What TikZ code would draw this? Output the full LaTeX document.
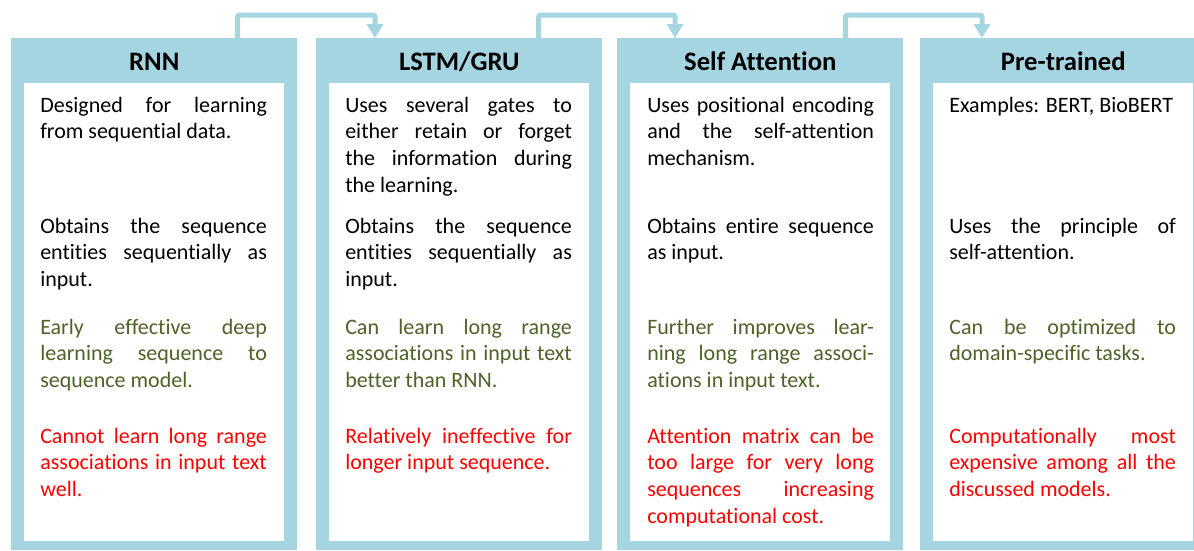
\documentclass[tikz,border=0pt]{standalone}
\usepackage{fontspec}
\setmainfont{Carlito}[Ligatures=NoCommon]
\usetikzlibrary{arrows.meta}

\definecolor{panelblue}{RGB}{166,213,226}
\definecolor{prosgreen}{RGB}{79,98,40}
\definecolor{consred}{RGB}{255,0,0}

\hyphenpenalty=10000
\exhyphenpenalty=10000

\tikzset{
  panel/.style={fill=panelblue, anchor=north west, inner sep=0pt,
    minimum width=214.5pt, minimum height=384pt},
  card/.style={fill=white, anchor=north west, inner sep=0pt,
    minimum width=195pt, minimum height=343.5pt},
  head/.style={anchor=base, inner sep=0pt, font=\fontsize{20}{24}\selectfont\bfseries},
  txt/.style={anchor=base west, inner sep=0pt, text width=170pt, align=justify,
    font=\fontsize{16.5}{20}\selectfont},
  flow/.style={draw=panelblue, line width=3.75pt, rounded corners=1.5pt,
    -{Triangle[width=12pt,length=10.5pt]}},
}

\begin{document}
\begin{tikzpicture}[x=0.75pt,y=-0.75pt]
\clip (0,0) rectangle (1194,550);

% the four model panels
\node[panel] (rnn) at (11,38) {};
\node[panel] (lstm) at (316,38) {};
\node[panel] (satt) at (617,38) {};
\node[panel] (pre) at (920,38) {};

\node[card] (rnnbody) at (24,83) {};
\node[card] (lstmbody) at (329,83) {};
\node[card] (sattbody) at (630,83) {};
\node[card] (prebody) at (933,83) {};

\node[head] (rnnhead) at ([yshift=-24.5pt]rnn.north) {RNN};
\node[head] (lstmhead) at ([yshift=-24.5pt]lstm.north) {LSTM/GRU};
\node[head] (satthead) at ([yshift=-24.5pt]satt.north) {Self Attention};
\node[head] (prehead) at ([yshift=-24.5pt]pre.north) {Pre-trained};

% RNN
\node[txt] (rnn1) at (40,112) {Designed for learning\linebreak from sequential data.};
\node[txt] (rnn2) at (40,233) {Obtains the sequence\linebreak entities sequentially as\linebreak input.};
\node[txt, prosgreen] (rnn3) at (40,334) {Early effective deep\linebreak learning sequence to\linebreak sequence model.};
\node[txt, consred] (rnn4) at (40,443) {Cannot learn long range\linebreak associations in input text\linebreak well.};

% LSTM/GRU
\node[txt] (lstm1) at (345,112) {Uses several gates to\linebreak either retain or forget\linebreak the information during\linebreak the learning.};
\node[txt] (lstm2) at (345,233) {Obtains the sequence\linebreak entities sequentially as\linebreak input.};
\node[txt, prosgreen] (lstm3) at (345,334) {Can learn long range\linebreak associations in input text\linebreak better than RNN.};
\node[txt, consred] (lstm4) at (345,443) {Relatively ineffective for\linebreak longer input sequence.};

% self attention
\node[txt] (satt1) at (647,112) {Uses positional encoding\linebreak and the self-attention\linebreak mechanism.};
\node[txt] (satt2) at (647,233) {Obtains entire sequence\linebreak as input.};
\node[txt, prosgreen] (satt3) at (647,334) {Further improves lear-\linebreak ning long range associ-\linebreak ations in input text.};
\node[txt, consred] (satt4) at (647,443) {Attention matrix can be\linebreak too large for very long\linebreak sequences increasing\linebreak computational cost.};

% pre-trained
\node[txt] (pre1) at (949,112) {Examples: BERT, BioBERT};
\node[txt] (pre2) at (949,233) {Uses the principle of\linebreak self-attention.};
\node[txt, prosgreen] (pre3) at (949,334) {Can be optimized to\linebreak domain-specific tasks.};
\node[txt, consred] (pre4) at (949,443) {Computationally most\linebreak expensive among all the\linebreak discussed models.};

% arrows over the top
\draw[flow] ([xshift=-45pt]rnn.north east) -- ++(0,-23) -| ([xshift=44.25pt]lstm.north west);
\draw[flow] ([xshift=-48pt]lstm.north east) -- ++(0,-23) -| ([xshift=43.5pt]satt.north west);
\draw[flow] ([xshift=-43.5pt]satt.north east) -- ++(0,-23) -| ([xshift=46.5pt]pre.north west);
\end{tikzpicture}
\end{document}
